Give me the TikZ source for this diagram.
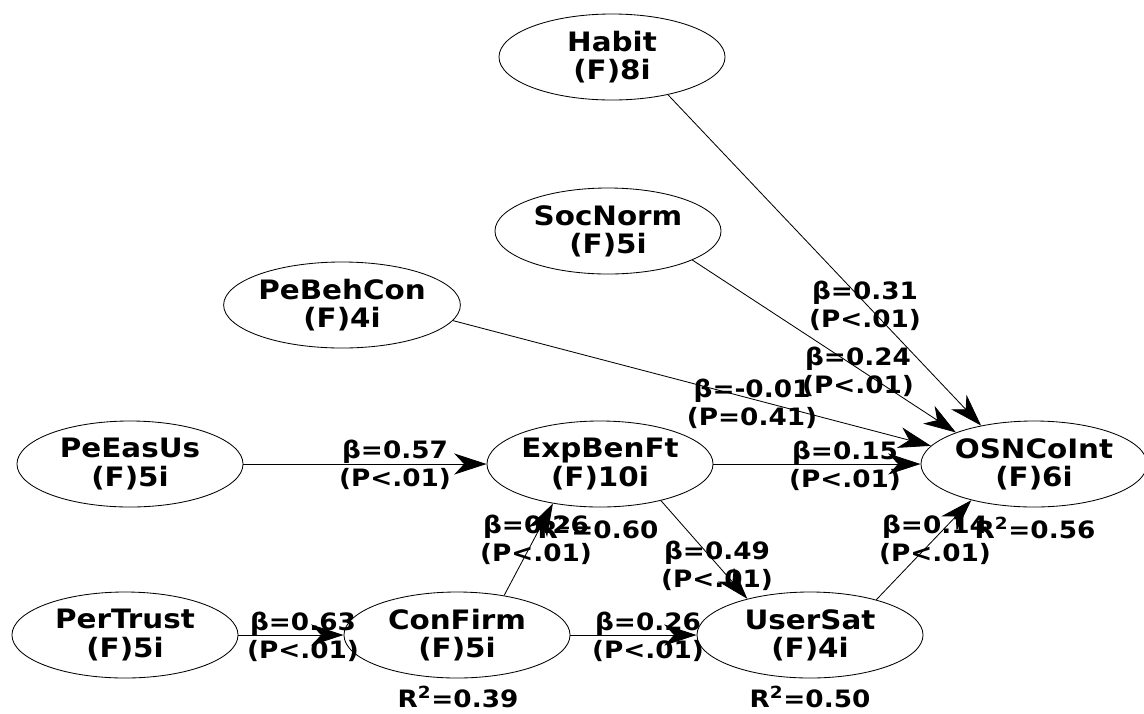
\documentclass[tikz,border=0pt]{standalone}
\usepackage{fontspec}
\setmainfont{DejaVu Sans}[FakeStretch=1.1]
\usetikzlibrary{arrows.meta,shapes.geometric}

\begin{document}
\begin{tikzpicture}[x=0.025cm, y=-0.025cm,
    lv/.style={ellipse, draw, line width=0.6pt, minimum width=5.65cm, minimum height=2.15cm,
        inner sep=0pt, align=center, font=\bfseries\fontsize{19}{20}\selectfont},
    coef/.style={align=center, inner sep=0pt, font=\bfseries\fontsize{17}{20}\selectfont},
    link/.style={line width=0.6pt, -{Stealth[length=23pt,width=15pt,inset=7pt]}}]

        \useasboundingbox (0,0) rectangle (1144,713);

        \node[lv] (hab) at (612,57) {Habit\\(F)8i};
        \node[lv] (soc) at (608,231) {SocNorm\\(F)5i};
        \node[lv] (beh) at (342,305) {PeBehCon\\(F)4i};

        \def\y{464}
        \node[lv] (eas) at (130,\y) {PeEasUs\\(F)5i};
        \node[lv] (ebf) at (600,\y) {ExpBenFt\\(F)10i};
        \node[lv] (osn) at (1034,\y) {OSNCoInt\\(F)6i};

        \def\y{635}
        \node[lv] (tru) at (125,\y) {PerTrust\\(F)5i};
        \node[lv] (cfm) at (457,\y) {ConFirm\\(F)5i};
        \node[lv] (usr) at (810,\y) {UserSat\\(F)4i};

        \draw[link] (hab.-34) -- (osn.144);
        \draw[link] (soc.-19) -- (osn.158);
        \draw[link] (beh.-8) -- (osn.170);
        \draw[link] (ebf) -- (osn);
        \draw[link] (eas) -- (ebf);
        \draw[link] (cfm.40) -- (ebf.220);
        \draw[link] (ebf.-31) -- (usr.150);
        \draw[link] (tru) -- (cfm);
        \draw[link] (cfm) -- (usr);
        \draw[link] (usr.28) -- (osn.210);

        \node[coef] (l1) at (865,306) {β=0.31\\(P<.01)};
        \node[coef] (l2) at (858,372) {β=0.24\\(P<.01)};
        \node[coef] (l3) at (752,404) {β=-0.01\\(P=0.41)};
        \node[coef] (l4) at (845,466) {β=0.15\\(P<.01)};
        \node[coef] (l5) at (395,465) {β=0.57\\(P<.01)};
        \node[coef] (l6) at (303,637) {β=0.63\\(P<.01)};
        \node[coef] (l7) at (648,637) {β=0.26\\(P<.01)};
        \node[coef] (l8) at (536,540) {β=0.26\\(P<.01)};
        \node[coef] (l9) at (717,566) {β=0.49\\(P<.01)};
        \node[coef] (l10) at (935,540) {β=0.14\\(P<.01)};

        \node[coef] (r1) at (598,528) {R\textsuperscript{2}=0.60};
        \node[coef] (r2) at (1035,528) {R\textsuperscript{2}=0.56};
        \node[coef] (r3) at (458,697) {R\textsuperscript{2}=0.39};
        \node[coef] (r4) at (810,697) {R\textsuperscript{2}=0.50};
    \end{tikzpicture}
\end{document}
